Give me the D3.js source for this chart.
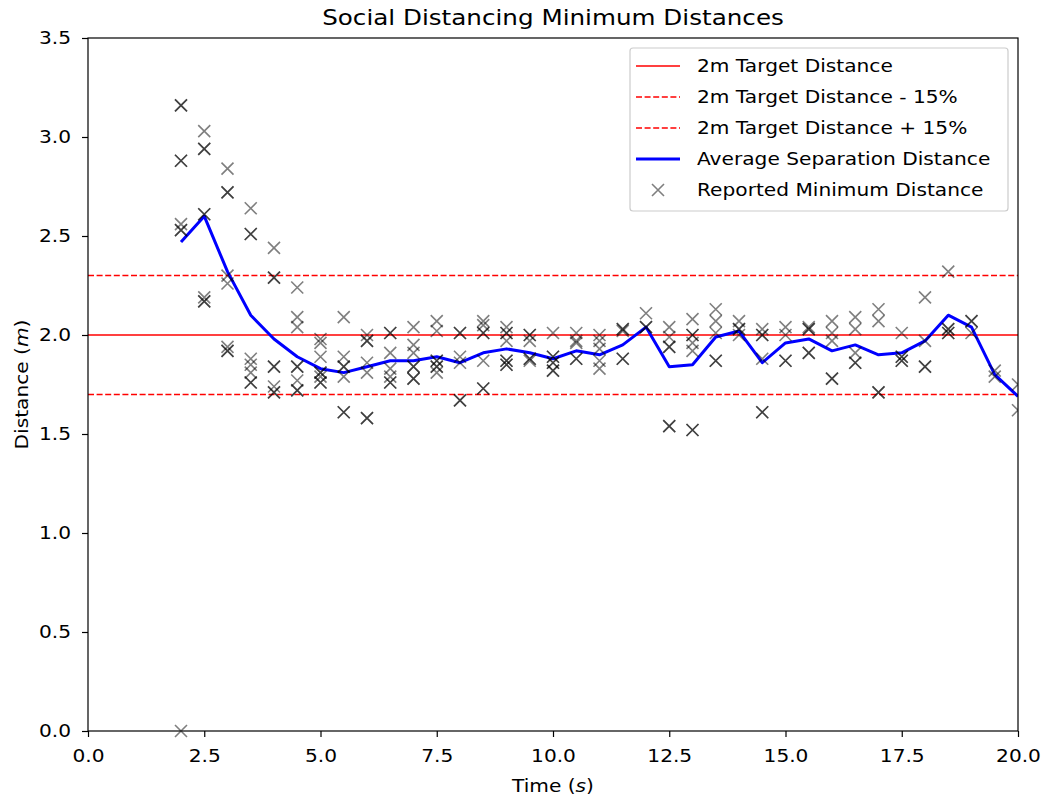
<!DOCTYPE html>
<html><head><meta charset="utf-8">
<script src="https://cdn.jsdelivr.net/npm/d3@7"></script>
<style>body{margin:0;background:#fff}svg{display:block}text{font-family:"DejaVu Sans",sans-serif;fill:#000}</style>
</head><body><svg id="c" width="1047" height="804"></svg>
<script>
const times = [2,2.5,3,3.5,4,4.5,5,5.5,6,6.5,7,7.5,8,8.5,9,9.5,10,10.5,11,11.5,12,12.5,13,13.5,14,14.5,15,15.5,16,16.5,17,17.5,18,18.5,19,19.5,20];
const reported = [
 [3.16,3.16,2.88,2.88,2.56,2.53,2.53,0.0],
 [3.03,2.94,2.94,2.61,2.61,2.19,2.17,2.17],
 [2.84,2.72,2.72,2.30,2.26,1.94,1.92,1.92],
 [2.64,2.51,2.51,1.88,1.85,1.81,1.76,1.76],
 [2.44,2.29,2.29,1.84,1.84,1.74,1.71,1.71],
 [2.24,2.09,2.04,1.84,1.84,1.77,1.72,1.72],
 [1.98,1.96,1.89,1.81,1.81,1.79,1.76,1.76],
 [2.09,1.89,1.84,1.84,1.79,1.61,1.61],
 [2.00,1.97,1.97,1.86,1.81,1.58,1.58],
 [2.01,2.01,1.91,1.83,1.79,1.76,1.76],
 [2.04,1.95,1.91,1.84,1.84,1.78,1.78],
 [2.07,2.02,1.87,1.87,1.84,1.84,1.81],
 [2.01,2.01,1.89,1.86,1.67,1.67],
 [2.07,2.05,2.01,2.01,1.87,1.73,1.73],
 [2.04,2.01,2.01,1.97,1.87,1.87,1.85,1.85],
 [2.00,2.00,1.97,1.88,1.88,1.87],
 [2.01,1.89,1.89,1.86,1.86,1.82,1.82],
 [2.01,1.97,1.96,1.88,1.88],
 [2.00,1.97,1.93,1.87,1.83],
 [2.03,2.03,2.02,1.88,1.88],
 [2.11,2.04,2.04],
 [2.04,1.99,1.94,1.94,1.54,1.54],
 [2.08,2.00,2.00,1.96,1.92,1.52,1.52],
 [2.13,2.07,2.01,1.87,1.87],
 [2.07,2.03,2.03,2.00],
 [2.03,2.00,2.00,1.88,1.61,1.61],
 [2.04,2.00,1.87,1.87],
 [2.04,2.03,2.03,1.91,1.91],
 [2.07,2.01,1.97,1.78,1.78],
 [2.09,2.03,1.91,1.86,1.86],
 [2.13,2.07,1.71,1.71],
 [2.01,1.89,1.89,1.87,1.87],
 [2.19,1.97,1.84,1.84],
 [2.32,2.03,2.03,2.01,2.01],
 [2.07,2.07,2.01],
 [1.82,1.79],
 [1.75,1.62]
];
const avgDist = [2.47,2.60,2.32,2.10,1.98,1.89,1.83,1.81,1.84,1.87,1.87,1.89,1.86,1.91,1.93,1.91,1.88,1.92,1.90,1.95,2.04,1.84,1.85,1.99,2.02,1.86,1.96,1.98,1.92,1.95,1.90,1.91,1.97,2.10,2.04,1.80,1.69];
const target = 2.0;
const xTicks = [0,2.5,5,7.5,10,12.5,15,17.5,20];
const yTicks = [0,0.5,1,1.5,2,2.5,3,3.5];
const legendLabels = ["2m Target Distance","2m Target Distance - 15%","2m Target Distance + 15%","Average Separation Distance","Reported Minimum Distance"];

const SX = 1.12, FS = 18, TFS = 22;
const svg = d3.select("#c");
const L=88,R=1018,T=38,B=731;
const x = d3.scaleLinear().domain([0,20]).range([L,R]);
const y = d3.scaleLinear().domain([0,3.5]).range([B,T]);

function stext(parent,px,py,size,anchor,rot){
  const g = parent.append("g").attr("transform",`translate(${px},${py})${rot?` rotate(${rot})`:""} scale(${SX},1)`);
  return g.append("text").attr("x",0).attr("y",0).attr("font-size",size).attr("text-anchor",anchor);
}

// title
stext(svg,(L+R)/2,25,TFS,"middle").text("Social Distancing Minimum Distances");

// axes
const xa = svg.append("g").attr("transform",`translate(0,${B})`).call(d3.axisBottom(x).tickValues(xTicks).tickFormat(d3.format(".1f")).tickSize(6).tickPadding(12));
const ya = svg.append("g").attr("transform",`translate(${L},0)`).call(d3.axisLeft(y).tickValues(yTicks).tickFormat(d3.format(".1f")).tickSize(6).tickPadding(11));
[xa,ya].forEach(a=>{a.selectAll("text").attr("font-size",FS).style("font-family","DejaVu Sans");a.select(".domain").remove();a.selectAll("line").attr("stroke","#000").attr("stroke-width",1.2);});
xa.selectAll(".tick text").attr("transform",`scale(${SX},1)`);
ya.selectAll(".tick text").attr("x",-17/SX).attr("transform",`scale(${SX},1)`);

// axis labels
const xl = stext(svg,(L+R)/2,792,FS,"middle");
xl.append("tspan").text("Time (");xl.append("tspan").attr("font-style","italic").text("s");xl.append("tspan").text(")");
const yl = stext(svg,28,(T+B)/2,FS,"middle",-90);
yl.append("tspan").text("Distance (");yl.append("tspan").attr("font-style","italic").text("m");yl.append("tspan").text(")");

const plot = svg.append("g");
plot.append("clipPath").attr("id","clip").append("rect").attr("x",L).attr("y",T-8).attr("width",R-L).attr("height",B-T+16);
const pg = plot.append("g").attr("clip-path","url(#clip)");

// reference lines
const refs = [{v:target,d:null},{v:target*0.85,d:"6,2.6"},{v:target*1.15,d:"6,2.6"}];
refs.forEach(r=>{pg.append("line").attr("x1",L).attr("x2",R).attr("y1",y(r.v)).attr("y2",y(r.v)).attr("stroke","#ff0000").attr("stroke-width",1.5).attr("stroke-dasharray",r.d);});

// average line
pg.append("path").datum(times.map((t,i)=>[t,avgDist[i]])).attr("d",d3.line().x(d=>x(d[0])).y(d=>y(d[1]))).attr("fill","none").attr("stroke","#0000ff").attr("stroke-width",3).attr("stroke-linejoin","round");

// scatter
const pts = [];
times.forEach((t,i)=>reported[i].forEach(v=>pts.push([t,v])));
const s=6;
const xm = d=>`M${x(d[0])-s},${y(d[1])-s}L${x(d[0])+s},${y(d[1])+s}M${x(d[0])-s},${y(d[1])+s}L${x(d[0])+s},${y(d[1])-s}`;
pg.selectAll("path.pt").data(pts).join("path").attr("class","pt").attr("d",xm).attr("stroke","#000").attr("stroke-opacity",0.5).attr("stroke-width",1.6).attr("fill","none");

// frame
svg.append("rect").attr("x",L).attr("y",T).attr("width",R-L).attr("height",B-T).attr("fill","none").attr("stroke","#000").attr("stroke-width",1.2);

// legend
const lg = svg.append("g");
lg.append("rect").attr("x",630).attr("y",48).attr("width",378).attr("height",163).attr("rx",3).attr("fill","#fff").attr("fill-opacity",0.8).attr("stroke","#ccc").attr("stroke-width",1.2);
legendLabels.forEach((lab,i)=>{
  const yy = 66 + i*31;
  if(i<3){lg.append("line").attr("x1",636).attr("x2",680).attr("y1",yy).attr("y2",yy).attr("stroke","#ff0000").attr("stroke-width",1.5).attr("stroke-dasharray",i===0?null:"6,2.6");}
  else if(i===3){lg.append("line").attr("x1",636).attr("x2",680).attr("y1",yy).attr("y2",yy).attr("stroke","#0000ff").attr("stroke-width",3);}
  else {lg.append("path").attr("d",`M${658-s},${yy-s}L${658+s},${yy+s}M${658-s},${yy+s}L${658+s},${yy-s}`).attr("stroke","#000").attr("stroke-opacity",0.5).attr("stroke-width",1.6);}
  stext(lg,697,yy+6,FS,"start").text(lab);
});
</script></body></html>
